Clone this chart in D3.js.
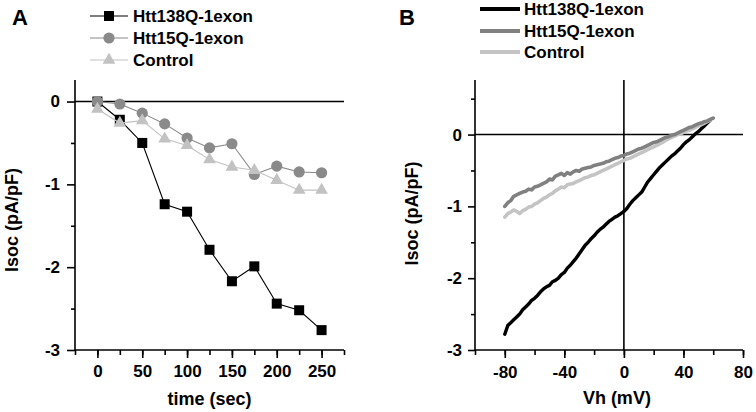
<!DOCTYPE html>
<html><head><meta charset="utf-8">
<script src="https://cdn.jsdelivr.net/npm/d3@7"></script>
<style>
html,body{margin:0;padding:0;background:#fff;}
svg text{font-family:"Liberation Sans",Arial,sans-serif;font-weight:bold;fill:#000;}
</style></head>
<body>
<svg id="c" width="756" height="412"></svg>
<script>
// ---------- Panel A data ----------
const timeSec = [0,25,50,75,100,125,150,175,200,225,250];
const htt138A = [0,-0.22,-0.50,-1.24,-1.33,-1.79,-2.17,-1.99,-2.44,-2.52,-2.76];
const htt15A  = [0,-0.03,-0.14,-0.27,-0.44,-0.56,-0.51,-0.88,-0.78,-0.85,-0.86];
const controlA= [-0.09,-0.26,-0.23,-0.45,-0.53,-0.70,-0.79,-0.83,-0.95,-1.07,-1.07];
const seriesNames = ["Htt138Q-1exon","Htt15Q-1exon","Control"];
const xTicksA = [0,50,100,150,200,250];
const yTicksA = [0,-1,-2,-3];

// ---------- Panel B data ----------
const vh138 = d3.range(-80,60,2);
const htt138B = [-2.78,-2.66,-2.62,-2.58,-2.54,-2.50,-2.44,-2.40,-2.36,-2.31,-2.28,-2.24,-2.19,-2.15,-2.12,-2.10,-2.05,-2.03,-2.00,-1.95,-1.92,-1.86,-1.82,-1.77,-1.72,-1.66,-1.60,-1.54,-1.50,-1.45,-1.41,-1.36,-1.32,-1.29,-1.25,-1.21,-1.18,-1.15,-1.13,-1.10,-1.07,-1.03,-0.97,-0.92,-0.88,-0.84,-0.80,-0.73,-0.66,-0.61,-0.56,-0.51,-0.46,-0.42,-0.38,-0.34,-0.30,-0.27,-0.23,-0.19,-0.14,-0.10,-0.07,-0.03,0.01,0.04,0.08,0.12,0.16,0.20];
const vh15 = d3.range(-80,62,2);
const htt15B = [-1.00,-0.95,-0.92,-0.86,-0.84,-0.82,-0.80,-0.79,-0.76,-0.77,-0.73,-0.72,-0.70,-0.68,-0.66,-0.62,-0.63,-0.58,-0.56,-0.54,-0.57,-0.53,-0.55,-0.52,-0.50,-0.51,-0.48,-0.47,-0.46,-0.45,-0.43,-0.42,-0.41,-0.40,-0.38,-0.37,-0.35,-0.33,-0.32,-0.30,-0.29,-0.27,-0.26,-0.24,-0.22,-0.20,-0.19,-0.17,-0.15,-0.13,-0.11,-0.10,-0.08,-0.06,-0.04,-0.03,-0.01,0.00,0.02,0.04,0.06,0.08,0.10,0.11,0.13,0.15,0.16,0.18,0.19,0.21,0.23];
const vhCtl = d3.range(-80,60,2);
const controlB = [-1.15,-1.10,-1.08,-1.05,-1.07,-1.10,-1.06,-1.04,-1.01,-1.00,-0.97,-0.95,-0.92,-0.89,-0.87,-0.84,-0.82,-0.78,-0.76,-0.73,-0.74,-0.70,-0.69,-0.68,-0.66,-0.64,-0.62,-0.60,-0.59,-0.57,-0.56,-0.54,-0.52,-0.50,-0.48,-0.46,-0.44,-0.42,-0.40,-0.38,-0.36,-0.34,-0.33,-0.31,-0.29,-0.27,-0.25,-0.23,-0.21,-0.19,-0.17,-0.15,-0.13,-0.11,-0.08,-0.06,-0.04,-0.02,0.00,0.01,0.03,0.05,0.06,0.08,0.10,0.12,0.14,0.16,0.18,0.20];
const xTicksB = [-80,-40,0,40,80];
const yTicksB = [0,-1,-2,-3];

const svg = d3.select("#c");
const FS = 17, FT = 18;
const fmt = d => String(d);

// ===== Panel A =====
const xA = d3.scaleLinear().domain([-25,275]).range([75,344]);
const yA = d3.scaleLinear().domain([-3,0.26]).range([350,80]);
const gA = svg.append("g");

gA.append("g").attr("transform","translate(0,350)")
  .call(d3.axisBottom(xA).tickValues(d3.range(-25,276,25)).tickSize(5).tickFormat(""))
  .call(g=>g.select(".domain").remove());
gA.append("g").attr("transform","translate(0,350)")
  .call(d3.axisBottom(xA).tickValues(xTicksA).tickSize(8).tickPadding(7).tickFormat(fmt))
  .call(g=>g.select(".domain").attr("d",`M${xA(-25)},0H${xA(275)}`));
gA.append("g").attr("transform","translate(75,0)")
  .call(d3.axisLeft(yA).tickValues([-0.5,-1.5,-2.5]).tickSize(4).tickFormat(""))
  .call(g=>g.select(".domain").remove());
gA.append("g").attr("transform","translate(75,0)")
  .call(d3.axisLeft(yA).tickValues(yTicksA).tickSize(8).tickPadding(7).tickFormat(fmt))
  .call(g=>g.select(".domain").attr("d",`M0,${yA(-3)}V${yA(0.26)}`));
gA.selectAll(".tick line, .domain").attr("stroke","#000").attr("stroke-width",1.6);
gA.selectAll(".tick text").style("font-size",FS+"px").style("font-family","Liberation Sans, Arial").style("font-weight","bold");
gA.append("line").attr("x1",xA(-25)).attr("x2",xA(275)).attr("y1",yA(0)).attr("y2",yA(0)).attr("stroke","#000").attr("stroke-width",1.6);

const colA = ["#000000","#8a8a8a","#c2c2c2"];
const dataA = [htt138A,htt15A,controlA];
const lineA = d3.line().x((d,i)=>xA(timeSec[i])).y(d=>yA(d));
function marker(g,type,cx,cy,col){
  if(type===0) g.append("rect").attr("x",cx-5).attr("y",cy-5).attr("width",10).attr("height",10).attr("fill",col);
  else if(type===1) g.append("circle").attr("cx",cx).attr("cy",cy).attr("r",5.6).attr("fill",col);
  else g.append("path").attr("d",d3.symbol(d3.symbolTriangle,70)()).attr("transform",`translate(${cx},${cy})`).attr("fill",col);
}
dataA.forEach((arr,k)=>{
  gA.append("path").attr("d",lineA(arr)).attr("fill","none").attr("stroke",colA[k]).attr("stroke-width",1.1);
  arr.forEach((v,i)=>marker(gA,k,xA(timeSec[i]),yA(v),colA[k]));
});
const legYA=[16,38,60];
seriesNames.forEach((n,k)=>{
  gA.append("line").attr("x1",90).attr("x2",128).attr("y1",legYA[k]).attr("y2",legYA[k]).attr("stroke",colA[k]).attr("stroke-width",1.2);
  marker(gA,k,109,legYA[k],colA[k]);
  gA.append("text").attr("x",133).attr("y",legYA[k]).attr("dy","0.36em").style("font-size",FS+"px").text(n);
});
gA.append("text").attr("x",12).attr("y",25).style("font-size","22px").text("A");
gA.append("text").attr("x",xA(125)).attr("y",405).attr("text-anchor","middle").style("font-size",FT+"px").text("time (sec)");
gA.append("text").attr("transform",`translate(18,${yA(-1.43)}) rotate(-90)`).attr("text-anchor","middle").style("font-size",FT+"px").text("Isoc (pA/pF)");

// ===== Panel B =====
const xB = d3.scaleLinear().domain([-100,80]).range([475,743]);
const yB = d3.scaleLinear().domain([-3,0.76]).range([350,80]);
const gB = svg.append("g");
gB.append("g").attr("transform","translate(0,350)")
  .call(d3.axisBottom(xB).tickValues(d3.range(-100,81,20)).tickSize(5).tickFormat(""))
  .call(g=>g.select(".domain").remove());
gB.append("g").attr("transform","translate(0,350)")
  .call(d3.axisBottom(xB).tickValues(xTicksB).tickSize(8).tickPadding(8).tickFormat(fmt))
  .call(g=>g.select(".domain").attr("d",`M${xB(-100)},0H${xB(80)}`));
gB.append("g").attr("transform","translate(475,0)")
  .call(d3.axisLeft(yB).tickValues([0.5,-0.5,-1.5,-2.5]).tickSize(4).tickFormat(""))
  .call(g=>g.select(".domain").remove());
gB.append("g").attr("transform","translate(475,0)")
  .call(d3.axisLeft(yB).tickValues(yTicksB).tickSize(7).tickPadding(6).tickFormat(fmt))
  .call(g=>g.select(".domain").attr("d",`M0,${yB(-3)}V${yB(0.76)}`));
gB.selectAll(".tick line, .domain").attr("stroke","#000").attr("stroke-width",1.6);
gB.selectAll(".tick text").style("font-size",FS+"px").style("font-family","Liberation Sans, Arial").style("font-weight","bold");
gB.append("line").attr("x1",xB(-100)).attr("x2",xB(80)).attr("y1",yB(0)).attr("y2",yB(0)).attr("stroke","#000").attr("stroke-width",1.6);
gB.append("line").attr("x1",xB(0)).attr("x2",xB(0)).attr("y1",yB(-3)).attr("y2",yB(0.76)).attr("stroke","#000").attr("stroke-width",1.6);

const colB = ["#000000","#808080","#c4c4c4"];
const xsB = [vh138,vh15,vhCtl];
const dataB = [htt138B,htt15B,controlB];
[0,2,1].forEach(k=>{
  const ln = d3.line().x((d,i)=>xB(xsB[k][i])).y(d=>yB(d));
  gB.append("path").attr("d",ln(dataB[k])).attr("fill","none").attr("stroke",colB[k]).attr("stroke-width",k===0?3.4:3.6).attr("stroke-linejoin","round").attr("stroke-linecap","round");
});
const legYB=[9,31,52];
seriesNames.forEach((n,k)=>{
  gB.append("line").attr("x1",480).attr("x2",520).attr("y1",legYB[k]).attr("y2",legYB[k]).attr("stroke",colB[k]).attr("stroke-width",4);
  gB.append("text").attr("x",524).attr("y",legYB[k]).attr("dy","0.36em").style("font-size",FS+"px").text(n);
});
gB.append("text").attr("x",399).attr("y",25).style("font-size","22px").text("B");
gB.append("text").attr("x",xB(0)-7).attr("y",404).attr("text-anchor","middle").style("font-size",FT+"px").text("Vh (mV)");
gB.append("text").attr("transform",`translate(418,${yB(-1.1)}) rotate(-90)`).attr("text-anchor","middle").style("font-size",FT+"px").text("Isoc (pA/pF)");
</script>
</body></html>
